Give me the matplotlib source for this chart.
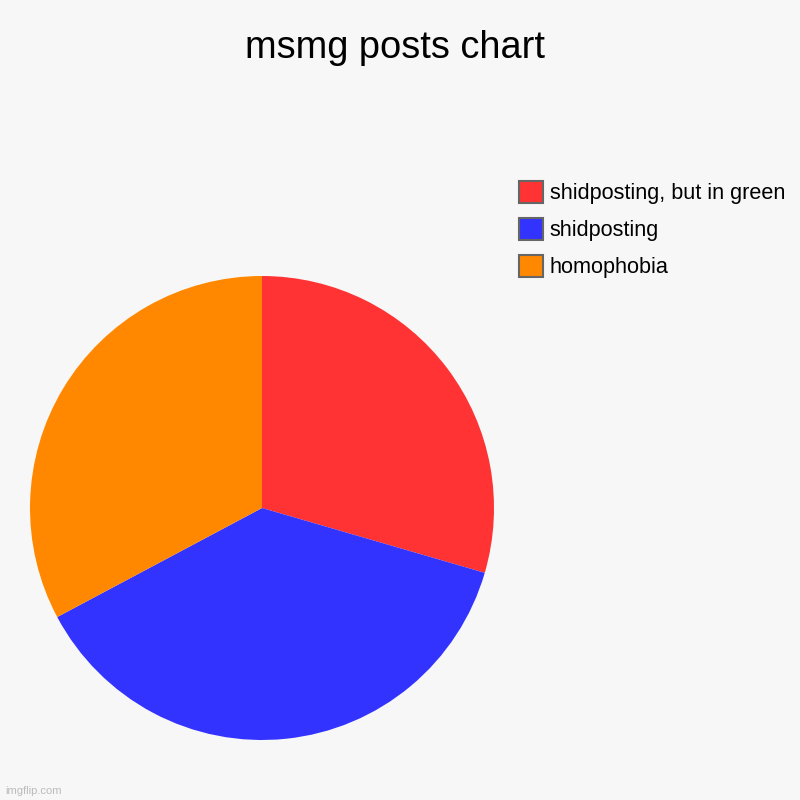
import matplotlib
matplotlib.use("Agg")
import matplotlib.pyplot as plt
from matplotlib.patches import Patch

plt.rcParams['font.family'] = ['Liberation Sans', 'DejaVu Sans']

labels = ["shidposting, but in green", "shidposting", "homophobia"]
values = [18, 23, 20]
colors = ["#ff3333", "#3333ff", "#ff8800"]
title = "msmg posts chart"

bg = "#f7f7f7"
fig = plt.figure(figsize=(8, 8), dpi=100, facecolor=bg)

cx, cy, r = 262, 508, 232
ax = fig.add_axes([(cx - r) / 800, (800 - cy - r) / 800, 2 * r / 800, 2 * r / 800])
ax.set_facecolor(bg)
wedges, _ = ax.pie(values, colors=colors, startangle=90, counterclock=False,
                   radius=1, wedgeprops=dict(linewidth=0))
ax.set_xlim(-1, 1)
ax.set_ylim(-1, 1)
ax.set_aspect('equal')
ax.axis('off')

fig.text(395 / 800, 1 - 48 / 800, title, ha='center', va='center', fontsize=27.4, color='#000000')

fs_px = 21.6
handles = [Patch(facecolor=w.get_facecolor(), edgecolor='#666666', linewidth=1.5) for w in wedges]
fig.legend(handles, labels, loc='upper left', bbox_to_anchor=(518.5 / 800, 1 - 180.5 / 800),
           bbox_transform=fig.transFigure, frameon=False, fontsize=fs_px * 0.72,
           handlelength=24 / fs_px, handleheight=1.25, labelspacing=0.62,
           handletextpad=7 / fs_px, borderpad=0, borderaxespad=0)

fig.text(5 / 800, 1 - 791 / 800, "imgflip.com", ha='left', va='center', fontsize=8, color='#bbbbbb')

fig.savefig("out.png", dpi=100, facecolor=bg)
